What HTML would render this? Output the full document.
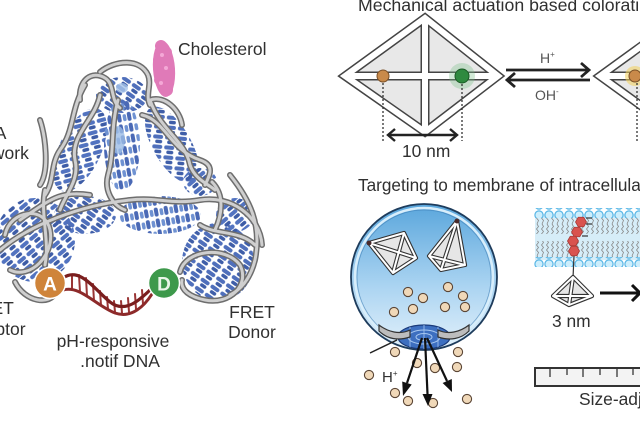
<!DOCTYPE html>
<html><head><meta charset="utf-8">
<style>
html,body{margin:0;padding:0;background:#fff;}
svg{display:block;}
text{font-family:"Liberation Sans",Arial,sans-serif;fill:#303030;}
</style></head>
<body>
<svg width="640" height="427" viewBox="0 0 640 427" xmlns="http://www.w3.org/2000/svg">
<defs>
  <pattern id="pa" width="12" height="10" patternUnits="userSpaceOnUse" patternTransform="rotate(35)">
    <rect x="0.5" y="1" width="10" height="4" rx="2" fill="#4f6fbb"/>
    <rect x="3" y="6" width="7" height="3.5" rx="1.7" fill="#3f5ea8"/>
  </pattern>
  <pattern id="pb" width="12" height="10" patternUnits="userSpaceOnUse" patternTransform="rotate(-40)">
    <rect x="0.5" y="1" width="10" height="4" rx="2" fill="#5273c0"/>
    <rect x="3" y="6" width="7" height="3.5" rx="1.7" fill="#3d5ca6"/>
  </pattern>
  <pattern id="pc" width="11" height="10" patternUnits="userSpaceOnUse" patternTransform="rotate(80)">
    <rect x="0.5" y="1" width="9" height="4" rx="2" fill="#4a69b5"/>
    <rect x="2" y="6" width="7" height="3.5" rx="1.7" fill="#6f92d2"/>
  </pattern>
  <pattern id="heads" x="534" y="0" width="10" height="10" patternUnits="userSpaceOnUse">
    <circle cx="5" cy="5" r="4.1" fill="#cdeefc" stroke="#58b6e6" stroke-width="1.2"/>
  </pattern>
  <pattern id="tails" x="535" y="0" width="5" height="16" patternUnits="userSpaceOnUse">
    <polyline points="2,0 3.5,2.5 1.5,5 3.5,7.5 1.5,10 3.5,12.5 2,16" fill="none" stroke="#888" stroke-width="0.8"/>
  </pattern>
  <linearGradient id="vg" x1="0" y1="0" x2="0" y2="1">
    <stop offset="0" stop-color="#5aa6dc"/>
    <stop offset="0.55" stop-color="#a9d3f1"/>
    <stop offset="1" stop-color="#e3f1fb"/>
  </linearGradient>
  <polygon id="hx" points="5.5,0 2.75,4.76 -2.75,4.76 -5.5,0 -2.75,-4.76 2.75,-4.76"/>
  <g id="rib">
    <path d="M80,100 C78,80 92,70 105,78 C115,84 110,100 120,108"/>
    <path d="M100,72 C115,60 140,58 148,75 C152,85 145,95 150,105"/>
    <path d="M150,100 C165,95 180,110 182,125"/>
    <path d="M85,85 C70,110 75,130 60,150 C50,165 55,180 45,195"/>
    <path d="M100,95 C95,120 70,135 75,160 C80,180 65,195 60,210"/>
    <path d="M118,100 C110,130 115,150 108,175 C104,190 112,205 125,210"/>
    <path d="M150,100 C160,130 185,140 190,165 C195,180 210,185 215,190"/>
    <path d="M142,115 C165,120 170,150 200,160 C215,165 210,175 205,185"/>
    <path d="M0,250 C30,225 80,205 130,200 C160,197 170,205 200,200 C230,195 260,215 262,245"/>
    <path d="M20,220 C50,200 60,190 90,195"/>
    <path d="M5,235 C10,210 45,205 50,230 C55,255 30,280 10,270"/>
    <path d="M15,282 C25,302 50,306 56,292"/>
    <path d="M45,190 C40,215 50,240 45,265"/>
    <path d="M180,272 C185,250 225,245 240,265 C250,285 230,305 205,300 C190,297 180,290 182,280"/>
    <path d="M200,225 C215,235 240,230 255,245"/>
    <path d="M212,182 C225,195 222,215 215,230"/>
    <path d="M40,120 C45,135 50,170 40,185"/>
    <path d="M230,175 C250,200 262,225 255,260 C250,280 240,290 230,295"/>
  </g>
</defs>
<rect width="640" height="427" fill="#fff"/>

<!-- ===== LEFT: DNA framework ===== -->
<g>
  <ellipse cx="122" cy="95" rx="26" ry="18" fill="url(#pa)"/>
  <ellipse cx="80" cy="150" rx="21" ry="45" transform="rotate(25 80 150)" fill="url(#pb)"/>
  <ellipse cx="122" cy="145" rx="18" ry="46" fill="url(#pc)"/>
  <ellipse cx="172" cy="145" rx="19" ry="43" transform="rotate(-30 172 145)" fill="url(#pa)"/>
  <ellipse cx="35" cy="240" rx="40" ry="42" fill="url(#pb)"/>
  <ellipse cx="85" cy="215" rx="31" ry="19" fill="url(#pa)"/>
  <ellipse cx="160" cy="215" rx="41" ry="19" fill="url(#pc)"/>
  <ellipse cx="218" cy="262" rx="36" ry="39" fill="url(#pa)"/>
  <ellipse cx="200" cy="182" rx="17" ry="14" fill="url(#pb)"/>
  <ellipse cx="235" cy="215" rx="19" ry="17" fill="url(#pb)"/>
  <ellipse cx="118" cy="140" rx="7" ry="14" fill="#9cbde6" opacity="0.8"/>
  <ellipse cx="122" cy="88" rx="6" ry="5" fill="#a8c4ea" opacity="0.8"/>
</g>
<g fill="none" stroke-linecap="round">
  <use href="#rib" stroke="#6e6e6e" stroke-width="6"/>
  <use href="#rib" stroke="#cfcfcf" stroke-width="3"/>
</g>

<!-- cholesterol -->
<g fill="#e07ab8">
  <ellipse cx="164" cy="69" rx="11" ry="28" transform="rotate(-4 164 69)"/>
  <circle cx="161" cy="46" r="6"/><circle cx="167" cy="52" r="5"/>
  <circle cx="158" cy="60" r="5"/><circle cx="170" cy="70" r="5"/>
  <circle cx="159" cy="80" r="5"/><circle cx="167" cy="90" r="6"/>
</g>
<g fill="#f4a8d6"><circle cx="162" cy="55" r="2"/><circle cx="166" cy="68" r="2"/><circle cx="161" cy="83" r="2"/></g>

<!-- red helix -->
<g fill="none" stroke-linecap="round">
  <g stroke="#9a3535" stroke-width="2">
    <line x1="72" y1="276" x2="72" y2="288"/><line x1="79" y1="275" x2="80" y2="292"/>
    <line x1="86" y1="278" x2="87" y2="296"/><line x1="93" y1="284" x2="94" y2="301"/>
    <line x1="100" y1="291" x2="101" y2="305"/><line x1="107" y1="297" x2="108" y2="309"/>
    <line x1="114" y1="301" x2="115" y2="312"/><line x1="121" y1="301" x2="122" y2="313"/>
    <line x1="128" y1="298" x2="129" y2="312"/><line x1="135" y1="294" x2="136" y2="309"/>
    <line x1="142" y1="290" x2="143" y2="304"/>
  </g>
  <path d="M63,278 C80,266 95,290 110,302 C125,314 140,300 152,288" stroke="#7a1e1e" stroke-width="3.2"/>
  <path d="M63,290 C80,285 95,305 115,313 C132,319 145,305 152,294" stroke="#8d2a2a" stroke-width="3"/>
</g>

<!-- A and D -->
<circle cx="50" cy="283" r="15.5" fill="#cf843a" stroke="#fff" stroke-width="1.5"/>
<text x="50" y="290.5" font-size="19" font-weight="bold" text-anchor="middle" style="fill:#fff">A</text>
<circle cx="164" cy="283" r="15.5" fill="#3d994b" stroke="#fff" stroke-width="1.5"/>
<text x="164" y="290.5" font-size="19" font-weight="bold" text-anchor="middle" style="fill:#e8f5e8">D</text>

<!-- left labels -->
<text x="178" y="55" font-size="17.5">Cholesterol</text>
<text x="-12" y="139" font-size="17.5" text-anchor="middle">DNA</text>
<text x="-12" y="159" font-size="17.5" text-anchor="middle">framework</text>
<text x="-9" y="314" font-size="17.5" text-anchor="middle">FRET</text>
<text x="-9" y="335" font-size="17.5" text-anchor="middle">Acceptor</text>
<text x="252" y="318" font-size="17.5" text-anchor="middle">FRET</text>
<text x="252" y="338" font-size="17.5" text-anchor="middle">Donor</text>
<text x="113" y="347" font-size="17.5" text-anchor="middle">pH-responsive</text>
<text x="120" y="367" font-size="17.5" text-anchor="middle">.notif DNA</text>

<!-- ===== RIGHT TOP: mechanical actuation ===== -->
<text x="358" y="11" font-size="17.7">Mechanical actuation based coloration</text>

<g fill="none" stroke-linejoin="miter">
  <polygon points="345,76 425,18 498,76 425,132" fill="#e8e8e8" stroke="#444" stroke-width="9"/>
  <line x1="425" y1="18" x2="425" y2="132" stroke="#444" stroke-width="9"/>
  <line x1="345" y1="76" x2="498" y2="76" stroke="#444" stroke-width="9"/>
  <polygon points="345,76 425,18 498,76 425,132" stroke="#fff" stroke-width="6"/>
  <line x1="425" y1="20" x2="425" y2="130" stroke="#fff" stroke-width="6"/>
  <line x1="348" y1="76" x2="495" y2="76" stroke="#fff" stroke-width="6"/>
</g>
<circle cx="462" cy="76" r="13" fill="#7cc08a" opacity="0.35"/>
<circle cx="383" cy="76" r="6" fill="#c98a4a" stroke="#7a5028" stroke-width="1"/>
<circle cx="462" cy="76" r="7" fill="#2f8a3f" stroke="#1a5a25" stroke-width="1"/>
<g stroke="#333" stroke-width="1.3" stroke-dasharray="2,2">
  <line x1="383" y1="83" x2="383" y2="141"/>
  <line x1="462" y1="84" x2="462" y2="141"/>
</g>
<g fill="none" stroke="#222" stroke-width="2.4">
  <line x1="388" y1="135" x2="457" y2="135"/>
  <polyline points="395,129 388,135 395,141"/>
  <polyline points="450,129 457,135 450,141"/>
</g>
<text x="402" y="157" font-size="17.4">10 nm</text>

<!-- equilibrium arrows -->
<g fill="none" stroke="#222" stroke-width="2.8">
  <line x1="506" y1="70" x2="589" y2="70"/>
  <polyline points="581,63 589,70 581,77"/>
  <line x1="507" y1="80" x2="590" y2="80"/>
  <polyline points="515,73 507,80 515,87"/>
</g>
<text x="540" y="63" font-size="14" style="fill:#555">H<tspan font-size="8" dy="-6">+</tspan></text>
<text x="535" y="100" font-size="14" style="fill:#555">OH<tspan font-size="8" dy="-6">-</tspan></text>

<!-- right partial diamond -->
<g fill="none">
  <polygon points="600,76 680,18 760,76 680,134" fill="#e8e8e8" stroke="#444" stroke-width="9"/>
  <line x1="600" y1="76" x2="760" y2="76" stroke="#444" stroke-width="9"/>
  <polygon points="600,76 680,18 760,76 680,134" stroke="#fff" stroke-width="6"/>
  <line x1="603" y1="76" x2="760" y2="76" stroke="#fff" stroke-width="6"/>
</g>
<circle cx="635" cy="76" r="10" fill="#f2cf5a" opacity="0.55"/>
<circle cx="635" cy="76" r="6" fill="#c98a4a" stroke="#7a5028" stroke-width="1"/>
<line x1="637" y1="83" x2="637" y2="141" stroke="#333" stroke-width="1.3" stroke-dasharray="2,2"/>

<!-- ===== RIGHT BOTTOM: targeting ===== -->
<text x="358" y="191" font-size="17.2">Targeting to membrane of intracellular</text>

<!-- vesicle -->
<circle cx="424" cy="277" r="73" fill="url(#vg)" stroke="#1e3c5c" stroke-width="1.8"/>
<circle cx="424" cy="277" r="69" fill="none" stroke="#d8eefb" stroke-width="2.5"/>
<circle cx="424" cy="277" r="67" fill="none" stroke="#3a7ab0" stroke-width="0.8" opacity="0.6"/>

<!-- tetrahedra in vesicle -->
<g stroke-linejoin="round">
  <polygon points="369,243 404,233 416,258 393,273" fill="#e6e6e6" stroke="#333" stroke-width="4.2"/>
  <g fill="none" stroke="#333" stroke-width="4.2"><line x1="369" y1="243" x2="416" y2="258"/><line x1="404" y1="233" x2="393" y2="273"/></g>
  <g fill="none" stroke="#fff" stroke-width="2">
    <polygon points="369,243 404,233 416,258 393,273"/>
    <line x1="369" y1="243" x2="416" y2="258"/><line x1="404" y1="233" x2="393" y2="273"/>
  </g>
  <circle cx="369" cy="243" r="2.5" fill="#4a2a2a"/>

  <polygon points="457,221 429,256 441,270 465,265" fill="#e6e6e6" stroke="#333" stroke-width="4.2"/>
  <g fill="none" stroke="#333" stroke-width="4.2"><line x1="457" y1="221" x2="441" y2="270"/><line x1="429" y1="256" x2="465" y2="265"/></g>
  <g fill="none" stroke="#fff" stroke-width="2">
    <polygon points="457,221 429,256 441,270 465,265"/>
    <line x1="457" y1="221" x2="441" y2="270"/><line x1="429" y1="256" x2="465" y2="265"/>
  </g>
  <circle cx="457" cy="221" r="2.5" fill="#4a2a2a"/>
</g>

<!-- pore -->
<ellipse cx="424" cy="337" rx="26" ry="12" fill="#3d6fc0" stroke="#1a3a7a" stroke-width="1.2"/>
<ellipse cx="424" cy="337" rx="16" ry="7" fill="none" stroke="#a8c8f0" stroke-width="1"/>
<ellipse cx="424" cy="337" rx="8" ry="3.5" fill="none" stroke="#a8c8f0" stroke-width="1"/>
<g stroke="#a8c8f0" stroke-width="0.8"><line x1="410" y1="327" x2="410" y2="347"/><line x1="424" y1="325" x2="424" y2="349"/><line x1="438" y1="327" x2="438" y2="347"/></g>
<path d="M379,325 C388,332 400,335 410,330 L410,337 C398,341 387,339 379,331 Z" fill="#bdbdbd" stroke="#333" stroke-width="1.2"/>
<path d="M469,325 C460,332 448,335 438,330 L438,337 C450,341 461,339 469,331 Z" fill="#bdbdbd" stroke="#333" stroke-width="1.2"/>
<line x1="370" y1="353" x2="397" y2="340" stroke="#222" stroke-width="1.5"/>

<!-- particles -->
<g fill="#f0d8b8" stroke="#5a4535" stroke-width="1.1">
  <circle cx="408" cy="292" r="4.6"/><circle cx="423" cy="298" r="4.6"/>
  <circle cx="448" cy="287" r="4.6"/><circle cx="463" cy="296" r="4.6"/>
  <circle cx="394" cy="312" r="4.6"/><circle cx="413" cy="309" r="4.6"/>
  <circle cx="445" cy="307" r="4.6"/><circle cx="465" cy="307" r="4.6"/>
  <circle cx="395" cy="352" r="4.6"/><circle cx="417" cy="363" r="4.6"/>
  <circle cx="435" cy="368" r="4.6"/><circle cx="458" cy="352" r="4.6"/>
  <circle cx="457" cy="367" r="4.6"/><circle cx="369" cy="375" r="4.6"/>
  <circle cx="395" cy="393" r="4.6"/><circle cx="408" cy="401" r="4.6"/>
  <circle cx="433" cy="403" r="4.6"/><circle cx="467" cy="399" r="4.6"/>
</g>

<!-- exit arrows -->
<g stroke="#111" stroke-width="2.2">
  <line x1="422" y1="338" x2="407" y2="383"/>
  <line x1="425" y1="338" x2="427.5" y2="394"/>
  <line x1="427" y1="338" x2="447" y2="381"/>
</g>
<g fill="#111">
  <polygon points="403,396 411.7,384.5 402.2,381.5"/>
  <polygon points="428,406 432.5,394 422.5,394"/>
  <polygon points="452,392 451.8,379 442.6,383"/>
</g>
<text x="382" y="382" font-size="15">H<tspan font-size="8" dy="-6">+</tspan></text>

<!-- membrane -->
<rect x="535" y="214" width="105" height="46" fill="#d6edf8"/>
<rect x="535" y="218" width="105" height="16" fill="url(#tails)"/>
<rect x="535" y="241" width="105" height="16" fill="url(#tails)"/>
<rect x="534" y="208" width="106" height="10" fill="url(#heads)"/>
<g transform="translate(0,49)"><rect x="534" y="208" width="106" height="10" fill="url(#heads)"/></g>

<!-- cholesterol hexagons -->
<g fill="#d9534f" stroke="#a83a36" stroke-width="0.8">
  <use href="#hx" x="581" y="222"/>
  <use href="#hx" x="577" y="232"/>
  <use href="#hx" x="573" y="241"/>
  <use href="#hx" x="574" y="251"/>
</g>
<g stroke="#333" stroke-width="1.2">
  <line x1="586" y1="218" x2="592" y2="218"/><line x1="586" y1="224" x2="592" y2="224"/>
  <line x1="582" y1="236" x2="588" y2="236"/>
  <line x1="574" y1="256" x2="573" y2="278"/>
</g>

<!-- tetra below membrane -->
<g stroke-linejoin="round">
  <polygon points="573,277 553,296 569,305 592,296" fill="#e6e6e6" stroke="#333" stroke-width="4.2"/>
  <g fill="none" stroke="#333" stroke-width="4.2"><line x1="573" y1="277" x2="569" y2="305"/><line x1="553" y1="296" x2="592" y2="296"/></g>
  <g fill="none" stroke="#fff" stroke-width="2">
    <polygon points="573,277 553,296 569,305 592,296"/>
    <line x1="573" y1="277" x2="569" y2="305"/><line x1="553" y1="296" x2="592" y2="296"/>
  </g>
</g>
<g stroke="#111" stroke-width="3" fill="none">
  <line x1="600" y1="293" x2="640" y2="293"/>
  <polyline points="632,285 640,293 632,301"/>
</g>
<text x="552" y="327" font-size="17.4">3 nm</text>

<!-- ruler -->
<rect x="535" y="368" width="110" height="18" fill="#f3f3f3" stroke="#333" stroke-width="2"/>
<g stroke="#444" stroke-width="1.4">
  <line x1="550" y1="369" x2="550" y2="377"/><line x1="567" y1="369" x2="567" y2="375"/>
  <line x1="583" y1="369" x2="583" y2="377"/><line x1="600" y1="369" x2="600" y2="375"/>
  <line x1="617" y1="369" x2="617" y2="377"/><line x1="633" y1="369" x2="633" y2="375"/>
</g>
<text x="579" y="405" font-size="17.4">Size-adjustable</text>
</svg>
</body></html>
